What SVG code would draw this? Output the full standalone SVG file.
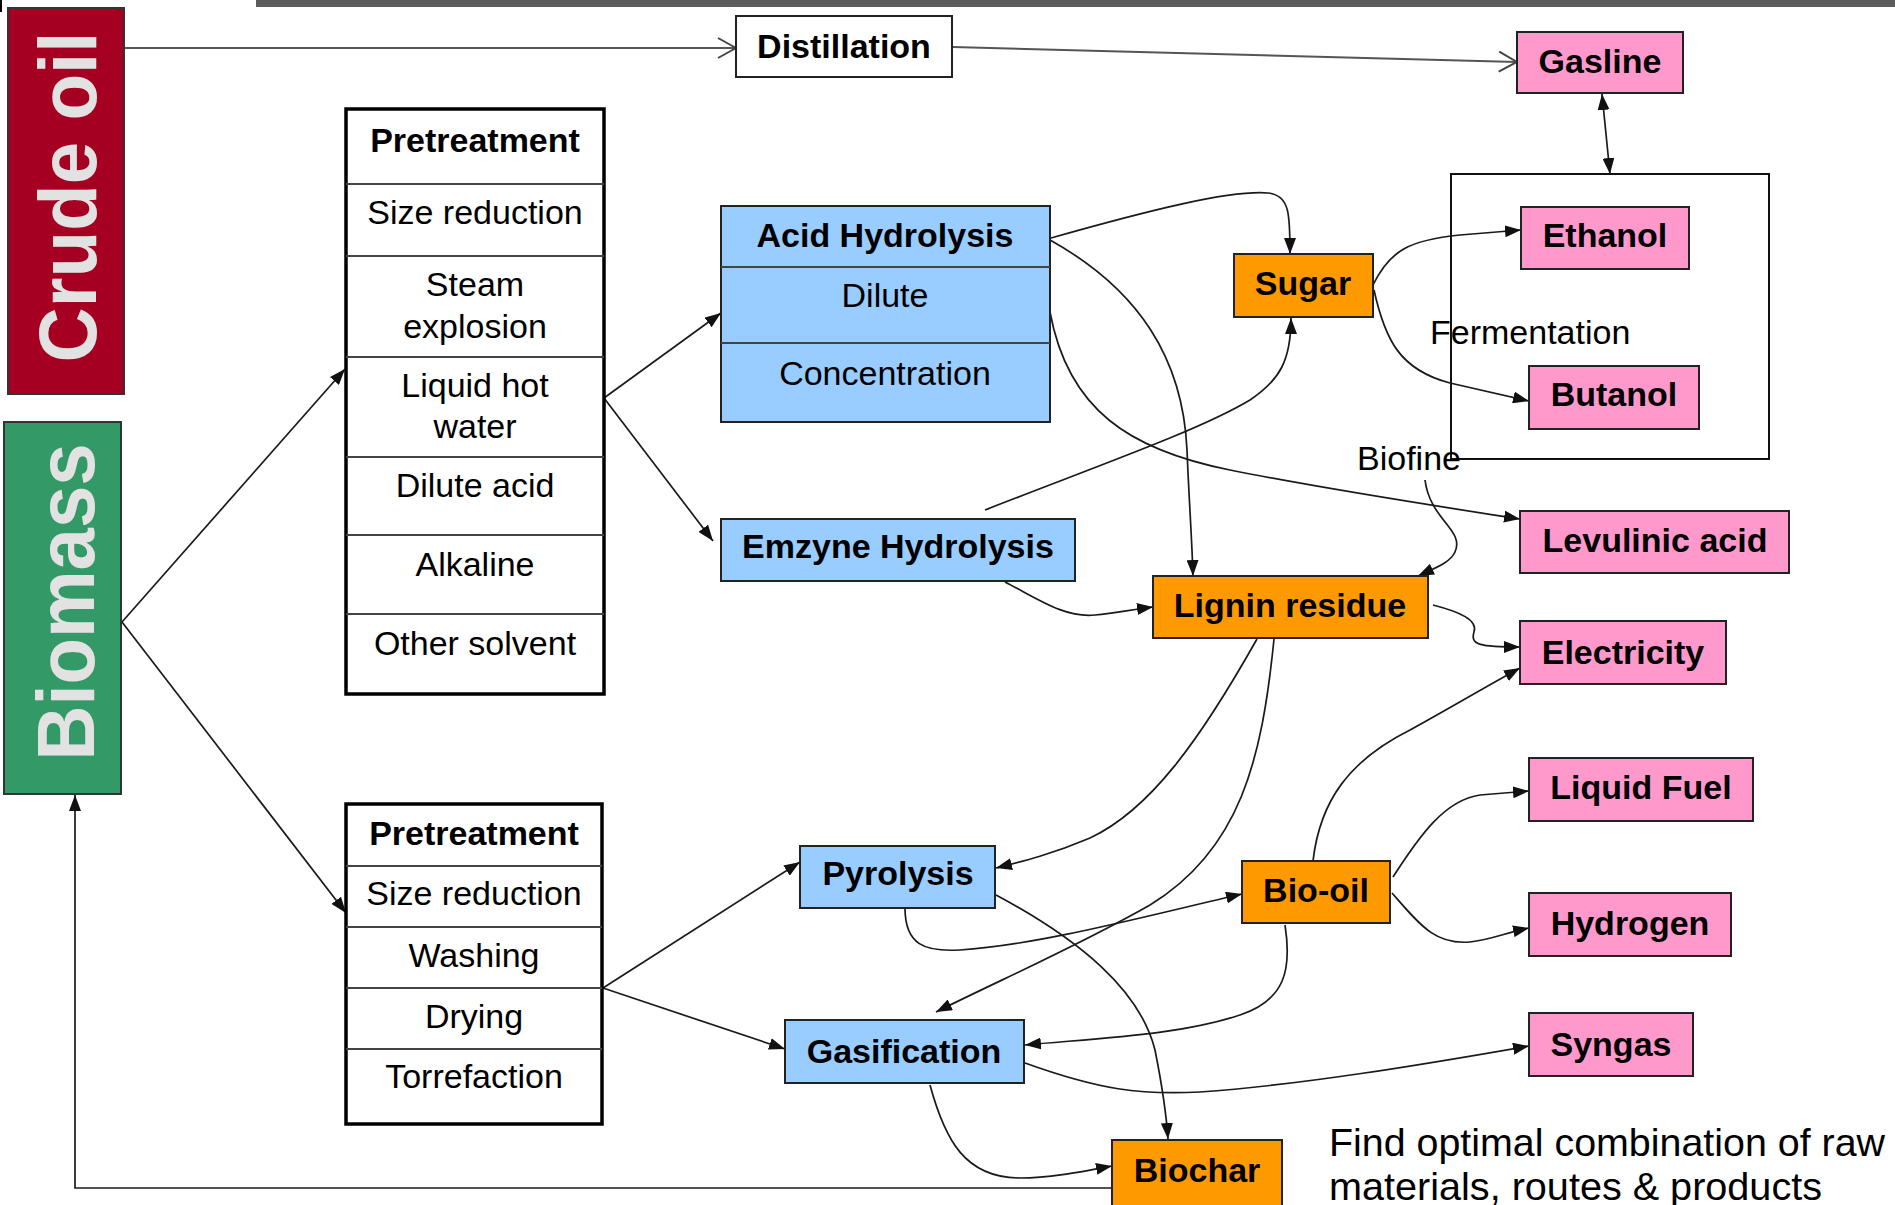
<svg xmlns="http://www.w3.org/2000/svg" width="1895" height="1205" viewBox="0 0 1895 1205">
<style>
text{font-family:"Liberation Sans",Arial,sans-serif;fill:#000}
.b{font-weight:bold;font-size:34px;text-anchor:middle}
.r{font-size:34px;text-anchor:middle}
.big{font-weight:bold;font-size:82px;text-anchor:middle;fill:#e2e2e2}
.node{stroke:#222;stroke-width:2}
.blue{fill:#99ccff}
.orange{fill:#ff9900}
.pink{fill:#ff99cc}
.white{fill:#fff}
.tbl{fill:#fff;stroke:#000;stroke-width:3.5}
.row{stroke:#444;stroke-width:2}
.c{fill:none;stroke:#1a1a1a;stroke-width:1.7;marker-end:url(#arr)}
.o{fill:none;stroke:#555;stroke-width:2;marker-end:url(#open)}
</style>
<defs>
<marker id="arr" viewBox="0 0 16 12" refX="16" refY="6" markerWidth="16" markerHeight="12" markerUnits="userSpaceOnUse" orient="auto-start-reverse"><path d="M0,0 L16,6 L0,12 z" fill="#111"/></marker>
<marker id="open" viewBox="0 0 20 22" refX="19" refY="11" markerWidth="20" markerHeight="22" markerUnits="userSpaceOnUse" orient="auto"><path d="M1,1 L19,11 L1,21" fill="none" stroke="#444" stroke-width="2"/></marker>
</defs>
<rect width="1895" height="1205" fill="#fff"/>
<rect x="256" y="0" width="1639" height="7" fill="#5c5c5c"/>
<rect x="0" y="0" width="2" height="12" fill="#000"/>

<g id="fermentation-group">
<rect x="1451" y="174" width="318" height="285" fill="none" stroke="#111" stroke-width="2"/>
<text x="1430" y="344" style="font-size:34px">Fermentation</text>
</g>

<g id="connectors">
<path class="o" d="M124,48 L736,48"/>
<path class="o" d="M953,47 L1517,62"/>
<path class="c" style="marker-start:url(#arr)" d="M1602,94 L1610,174"/>
<path class="c" d="M122,622 L345,369"/>
<path class="c" d="M122,622 L346,913"/>
<path class="c" d="M604,398 L721,313"/>
<path class="c" d="M604,398 L713,541"/>
<path class="c" d="M603,988 L800,862"/>
<path class="c" d="M603,988 L785,1049"/>
<path class="c" d="M1051,238 C1150,210 1230,190 1268,193 C1290,195 1290,215 1290,254"/>
<path class="c" d="M1050,240 C1140,290 1183,360 1187,450 C1189,500 1192,540 1193,576"/>
<path class="c" d="M1050,312 C1068,410 1130,450 1230,470 C1330,490 1430,505 1520,519"/>
<path class="c" d="M985,510 C1100,465 1200,430 1250,400 C1280,380 1291,360 1291,318"/>
<path class="c" d="M1005,582 C1040,600 1065,618 1095,615 C1115,613 1130,610 1153,607"/>
<path class="c" d="M1373,285 C1390,250 1410,240 1460,235 L1521,230"/>
<path class="c" d="M1374,290 C1385,340 1400,370 1450,383 L1529,401"/>
<path class="c" d="M1425,480 C1430,520 1465,530 1455,552 C1450,563 1435,568 1418,576"/>
<path class="c" d="M1433,605 C1460,612 1478,620 1474,632 C1470,645 1480,647 1520,647"/>
<path class="c" d="M1257,639 C1200,740 1150,810 1090,838 C1050,855 1020,862 996,868"/>
<path class="c" d="M1274,639 C1262,760 1240,850 1150,905 C1080,945 1000,980 936,1012"/>
<path class="c" d="M905,908 C905,945 925,952 960,950 C1040,945 1150,915 1242,894"/>
<path class="c" d="M996,895 C1080,940 1140,990 1155,1050 C1163,1090 1166,1110 1168,1139"/>
<path class="c" d="M1285,925 C1292,970 1285,1000 1240,1015 C1180,1035 1100,1038 1025,1045"/>
<path class="c" d="M1313,861 C1320,800 1350,760 1410,730 C1450,708 1480,690 1520,668"/>
<path class="c" d="M1393,877 C1420,835 1445,800 1480,795 L1529,791"/>
<path class="c" d="M1392,893 C1420,925 1435,945 1470,942 C1490,940 1505,933 1529,928"/>
<path class="c" d="M1025,1063 C1100,1090 1140,1095 1200,1092 C1300,1085 1420,1065 1529,1046"/>
<path class="c" d="M930,1085 C945,1140 965,1178 1020,1178 C1050,1178 1080,1172 1112,1166"/>
<path class="c" d="M1112,1188 L75,1188 L75,795"/>
<text x="1357" y="470" style="font-size:34px">Biofine</text>
</g>

<g id="crude-oil">
<rect x="8" y="8" width="116" height="386" fill="#a50021" stroke="#333" stroke-width="2"/>
<text class="big" transform="translate(96,197) rotate(-90)" textLength="331" lengthAdjust="spacingAndGlyphs">Crude oil</text>
</g>
<g id="biomass">
<rect x="4" y="422" width="117" height="372" fill="#339966" stroke="#333" stroke-width="2"/>
<text class="big" transform="translate(94,602) rotate(-90)" textLength="317" lengthAdjust="spacingAndGlyphs">Biomass</text>
</g>

<g id="distillation">
<rect class="node white" x="736" y="16" width="216" height="61"/>
<text class="b" x="844" y="58">Distillation</text>
</g>

<g id="pretreatment-1">
<rect class="tbl" x="346" y="109" width="258" height="585"/>
<path class="row" d="M346,184 H604 M346,256 H604 M346,357 H604 M346,457 H604 M346,535 H604 M346,614 H604"/>
<text class="b" x="475" y="152">Pretreatment</text>
<text class="r" x="475" y="224">Size reduction</text>
<text class="r" x="475" y="296">Steam</text>
<text class="r" x="475" y="338">explosion</text>
<text class="r" x="475" y="397">Liquid hot</text>
<text class="r" x="475" y="438">water</text>
<text class="r" x="475" y="497">Dilute acid</text>
<text class="r" x="475" y="576">Alkaline</text>
<text class="r" x="475" y="655">Other solvent</text>
</g>

<g id="pretreatment-2">
<rect class="tbl" x="346" y="804" width="256" height="320"/>
<path class="row" d="M346,866 H602 M346,927 H602 M346,988 H602 M346,1049 H602"/>
<text class="b" x="474" y="845">Pretreatment</text>
<text class="r" x="474" y="905">Size reduction</text>
<text class="r" x="474" y="967">Washing</text>
<text class="r" x="474" y="1028">Drying</text>
<text class="r" x="474" y="1088">Torrefaction</text>
</g>

<g id="acid-hydrolysis">
<rect class="node blue" x="721" y="206" width="329" height="216"/>
<path class="row" d="M721,267 H1050 M721,343 H1050" stroke="#111"/>
<text class="b" x="885" y="247">Acid Hydrolysis</text>
<text class="r" x="885" y="307">Dilute</text>
<text class="r" x="885" y="385">Concentration</text>
</g>

<g id="enzyme-hydrolysis">
<rect class="node blue" x="721" y="519" width="354" height="62"/>
<text class="b" x="898" y="558">Emzyne Hydrolysis</text>
</g>

<g id="sugar">
<rect class="node orange" x="1234" y="254" width="139" height="63"/>
<text class="b" x="1303" y="295">Sugar</text>
</g>

<g id="lignin-residue">
<rect class="node orange" x="1153" y="576" width="275" height="62"/>
<text class="b" x="1290" y="617">Lignin residue</text>
</g>

<g id="gasline">
<rect class="node pink" x="1517" y="32" width="166" height="61"/>
<text class="b" x="1600" y="73">Gasline</text>
</g>
<g id="ethanol">
<rect class="node pink" x="1521" y="207" width="168" height="62"/>
<text class="b" x="1605" y="247">Ethanol</text>
</g>
<g id="butanol">
<rect class="node pink" x="1529" y="366" width="170" height="63"/>
<text class="b" x="1614" y="406">Butanol</text>
</g>
<g id="levulinic-acid">
<rect class="node pink" x="1520" y="511" width="269" height="62"/>
<text class="b" x="1655" y="552">Levulinic acid</text>
</g>
<g id="electricity">
<rect class="node pink" x="1520" y="621" width="206" height="63"/>
<text class="b" x="1623" y="664">Electricity</text>
</g>
<g id="liquid-fuel">
<rect class="node pink" x="1529" y="758" width="224" height="63"/>
<text class="b" x="1641" y="799">Liquid Fuel</text>
</g>
<g id="hydrogen">
<rect class="node pink" x="1529" y="893" width="202" height="63"/>
<text class="b" x="1630" y="935">Hydrogen</text>
</g>
<g id="syngas">
<rect class="node pink" x="1529" y="1013" width="164" height="63"/>
<text class="b" x="1611" y="1056">Syngas</text>
</g>

<g id="pyrolysis">
<rect class="node blue" x="800" y="846" width="195" height="62"/>
<text class="b" x="898" y="885">Pyrolysis</text>
</g>
<g id="gasification">
<rect class="node blue" x="785" y="1020" width="239" height="63"/>
<text class="b" x="904" y="1063">Gasification</text>
</g>
<g id="bio-oil">
<rect class="node orange" x="1242" y="861" width="148" height="62"/>
<text class="b" x="1316" y="902">Bio-oil</text>
</g>
<g id="biochar">
<rect class="node orange" x="1112" y="1140" width="170" height="70"/>
<text class="b" x="1197" y="1182">Biochar</text>
</g>

<g id="note">
<text x="1329" y="1156" style="font-size:39.5px" textLength="556" lengthAdjust="spacingAndGlyphs">Find optimal combination of raw</text>
<text x="1329" y="1200" style="font-size:39.5px" textLength="493" lengthAdjust="spacingAndGlyphs">materials, routes &amp; products</text>
</g>
</svg>
